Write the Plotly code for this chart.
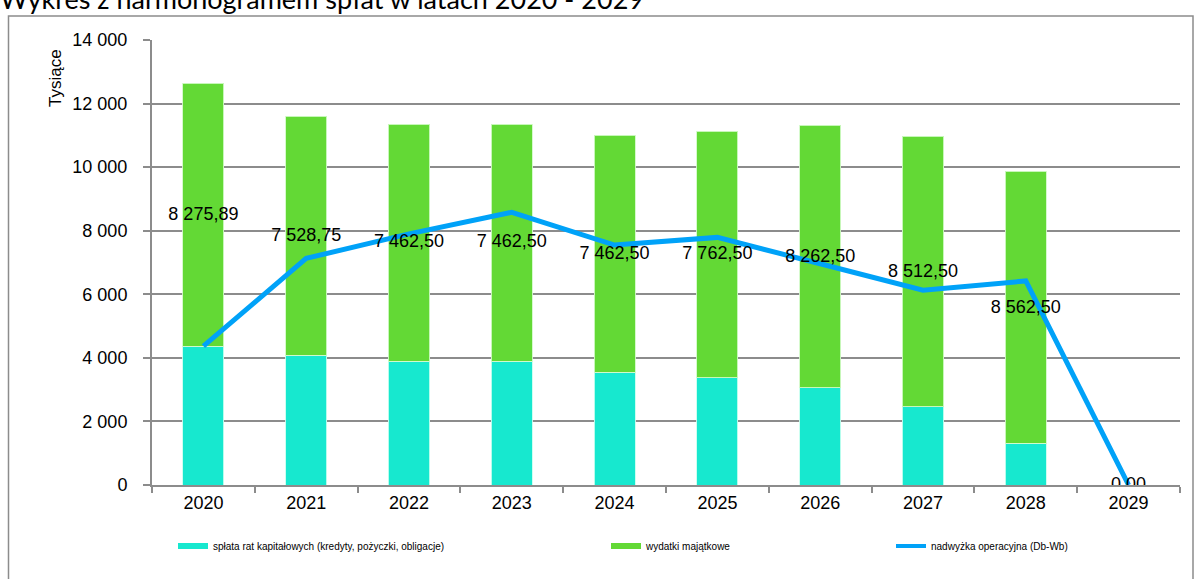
import plotly.graph_objects as go

years = ["2020", "2021", "2022", "2023", "2024", "2025", "2026", "2027", "2028", "2029"]
splata = [4360, 4078, 3894, 3894, 3548, 3374, 3053, 2457, 1315, 0]
wydatki = [8275.89, 7528.75, 7462.50, 7462.50, 7462.50, 7762.50, 8262.50, 8512.50, 8562.50, 0.00]
nadwyzka = [4370, 7130, 7900, 8580, 7550, 7790, 6960, 6130, 6420, 0]
label_y = [8470, 7830, 7620, 7620, 7260, 7260, 7150, 6680, 5560, 0]

names = ["spłata rat kapitałowych (kredyty, pożyczki, obligacje)", "wydatki majątkowe", "nadwyżka operacyjna (Db-Wb)"]
c_cyan = "#17E8CF"
c_green = "#63D935"
c_blue = "#00A2F8"
grid = "#8C8C8C"
FONT = "Liberation Sans, Arial, sans-serif"

def fmt(v):
    s = f"{v:,.2f}"
    return s.replace(",", " ").replace(".", ",")

W, H = 1196, 579
L, R, T, B = 152, 16, 40, 94
pw, ph = W - L - R, H - T - B
def px(x): return (x - L) / pw
def py(y): return (H - B - y) / ph

fig = go.Figure()
fig.add_bar(x=years, y=splata, marker=dict(color=c_cyan, line=dict(color="rgba(200,255,240,0.9)", width=1)), showlegend=False, name=names[0])
fig.add_bar(x=years, y=wydatki, marker=dict(color=c_green, line=dict(color="rgba(210,250,200,0.9)", width=1)), showlegend=False, name=names[1])
fig.add_scatter(x=years, y=nadwyzka, mode="lines", line=dict(color=c_blue, width=5), showlegend=False, name=names[2])
fig.add_scatter(x=years, y=label_y, mode="text", text=[fmt(v) for v in wydatki], textposition="middle center",
                textfont=dict(family=FONT, size=18, color="black"), showlegend=False, hoverinfo="skip")

# legend entries
fig.add_scatter(x=[None], y=[None], mode="lines", line=dict(color=c_cyan, width=6), name=names[0], legend="legend")
fig.add_scatter(x=[None], y=[None], mode="lines", line=dict(color=c_green, width=6), name=names[1], legend="legend2")
fig.add_scatter(x=[None], y=[None], mode="lines", line=dict(color=c_blue, width=4), name=names[2], legend="legend3")

leg_common = dict(orientation="h", yanchor="middle", xanchor="left", y=py(546), font=dict(family=FONT, size=10, color="black"), bgcolor="rgba(0,0,0,0)")
fig.update_layout(
    width=W, height=H,
    margin=dict(l=L, r=R, t=T, b=B, autoexpand=False),
    paper_bgcolor="white", plot_bgcolor="white",
    barmode="stack", bargap=0.6,
    separators=", ",
    font=dict(family=FONT, size=18, color="black"),
    legend=dict(x=px(212 - 39), **leg_common),
    legend2=dict(x=px(645 - 39), **leg_common),
    legend3=dict(x=px(930 - 39), **leg_common),
    xaxis=dict(type="category", tickson="boundaries", ticks="outside", ticklen=6, tickcolor=grid, tickwidth=2,
               showline=True, linecolor=grid, linewidth=2, showgrid=False,
               tickfont=dict(family=FONT, size=18, color="black")),
    yaxis=dict(range=[0, 14000], dtick=2000, ticks="outside", ticklen=7, tickcolor=grid, tickwidth=2,
               showline=True, linecolor=grid, linewidth=2, showgrid=True, gridcolor=grid, gridwidth=2,
               zeroline=False, tickformat=",d", ticklabelstandoff=12,
               tickfont=dict(family=FONT, size=18, color="black")),
    shapes=[dict(type="rect", xref="paper", yref="paper", x0=px(8.5), x1=px(1193), y0=py(600), y1=py(16),
                 line=dict(color="#8C8C8C", width=1.5), fillcolor="rgba(0,0,0,0)", layer="below")],
    annotations=[
        dict(text="Tysiące", xref="paper", yref="paper", x=px(55), y=py(78), textangle=-90, showarrow=False,
             font=dict(family=FONT, size=17, color="black"), xanchor="center", yanchor="middle"),
        dict(text="Wykres z harmonogramem spłat w latach 2020 - 2029", xref="paper", yref="paper", x=px(-2), y=py(17),
             xanchor="left", yanchor="bottom", showarrow=False, font=dict(family="Lato, Open Sans, sans-serif", size=27, color="black")),
    ],
)
fig.write_html("out.html", post_script="document.body.style.margin='0';", config={"displayModeBar": False})
